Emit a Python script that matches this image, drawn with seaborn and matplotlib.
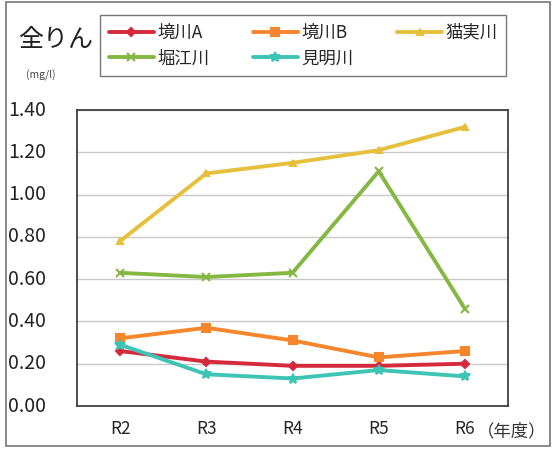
import matplotlib
matplotlib.use("Agg")
import matplotlib.pyplot as plt
import seaborn as sns
import pandas as pd
from matplotlib.patches import Rectangle

# データ
years = ["R2", "R3", "R4", "R5", "R6"]
sakaigawa_a = [0.26, 0.21, 0.19, 0.19, 0.20]
sakaigawa_b = [0.32, 0.37, 0.31, 0.23, 0.26]
nekozane = [0.78, 1.10, 1.15, 1.21, 1.32]
horie = [0.63, 0.61, 0.63, 1.11, 0.46]
kenmyo = [0.29, 0.15, 0.13, 0.17, 0.14]

names = ["境川A", "境川B", "猫実川", "堀江川", "見明川"]
series = [sakaigawa_a, sakaigawa_b, nekozane, horie, kenmyo]
colors = ["#d42a3c", "#f5862c", "#e6c03c", "#84b843", "#3ec4b4"]
markers = ["D", "s", "^", "x", "*"]
msizes = [4, 6, 5, 6, 7]

rows = []
for n, vals in zip(names, series):
    for y, v in zip(years, vals):
        rows.append({"年度": y, "値": v, "地点": n})
df = pd.DataFrame(rows)

sns.set_style("white")
plt.rcParams['font.family'] = ['Noto Sans CJK JP', 'DejaVu Sans']

fig = plt.figure(figsize=(5.53, 4.5), dpi=100)
ax = fig.add_axes([77 / 553, 1 - 406 / 450, 431 / 553, 296 / 450])

for n, c, m, ms in zip(names, colors, markers, msizes):
    sub = df[df["地点"] == n]
    sns.lineplot(data=sub, x="年度", y="値", color=c, marker=m, markersize=ms,
                 markeredgecolor=c, markeredgewidth=1.5, linewidth=2.8,
                 label=n, ax=ax)

ax.set_xlim(-0.5, 4.5)
ax.set_ylim(0, 1.4)
ax.set_yticks([0, 0.2, 0.4, 0.6, 0.8, 1.0, 1.2, 1.4])
ax.set_yticklabels([])
ax.yaxis.grid(True, color="#c8c8c8", linewidth=1)
ax.set_axisbelow(True)
ax.set_xlabel("")
ax.set_ylabel("")
ax.tick_params(axis="x", length=0, labelsize=12.5, pad=10)
ax.tick_params(axis="y", length=0)
for s in ax.spines.values():
    s.set_color("#404040")
    s.set_linewidth(1.3)

# 目盛ラベル（左端に寄せる）
for v in [0, 0.2, 0.4, 0.6, 0.8, 1.0, 1.2, 1.4]:
    fig.text(8 / 553, ax.transData.transform((0, v))[1] / fig.bbox.height,
             f"{v:.2f}", ha="left", va="center", fontsize=14,
             color="#222222")

fig.text(546 / 553, 1 - 431 / 450, "（年度）", ha="right", va="center",
         fontsize=12.5, color="#333333")
fig.text(18 / 553, 1 - 40 / 450, "全りん", ha="left", va="center",
         fontsize=18, color="#222222")
fig.text(26 / 553, 1 - 75 / 450, "(mg/l)", ha="left", va="center",
         fontsize=7.5, color="#444444")

# 凡例は行方向の並びにする
h, l = ax.get_legend_handles_labels()
order = [0, 3, 1, 4, 2]
ax.legend([h[i] for i in order], [l[i] for i in order], ncol=3,
          loc="upper left", bbox_to_anchor=(100 / 553, 1 - 15 / 450),
          bbox_transform=fig.transFigure, frameon=True, fancybox=False,
          edgecolor="#555555", fontsize=12.5, handlelength=2.6,
          handletextpad=0.2, columnspacing=2.5, borderpad=0.5,
          labelspacing=0.45, borderaxespad=0)

fig.patches.append(Rectangle((6 / 553, 4 / 450), 544 / 553, 444 / 450,
                             transform=fig.transFigure, fill=False,
                             edgecolor="#777777", linewidth=1.2))

fig.savefig("out.png", dpi=100)
